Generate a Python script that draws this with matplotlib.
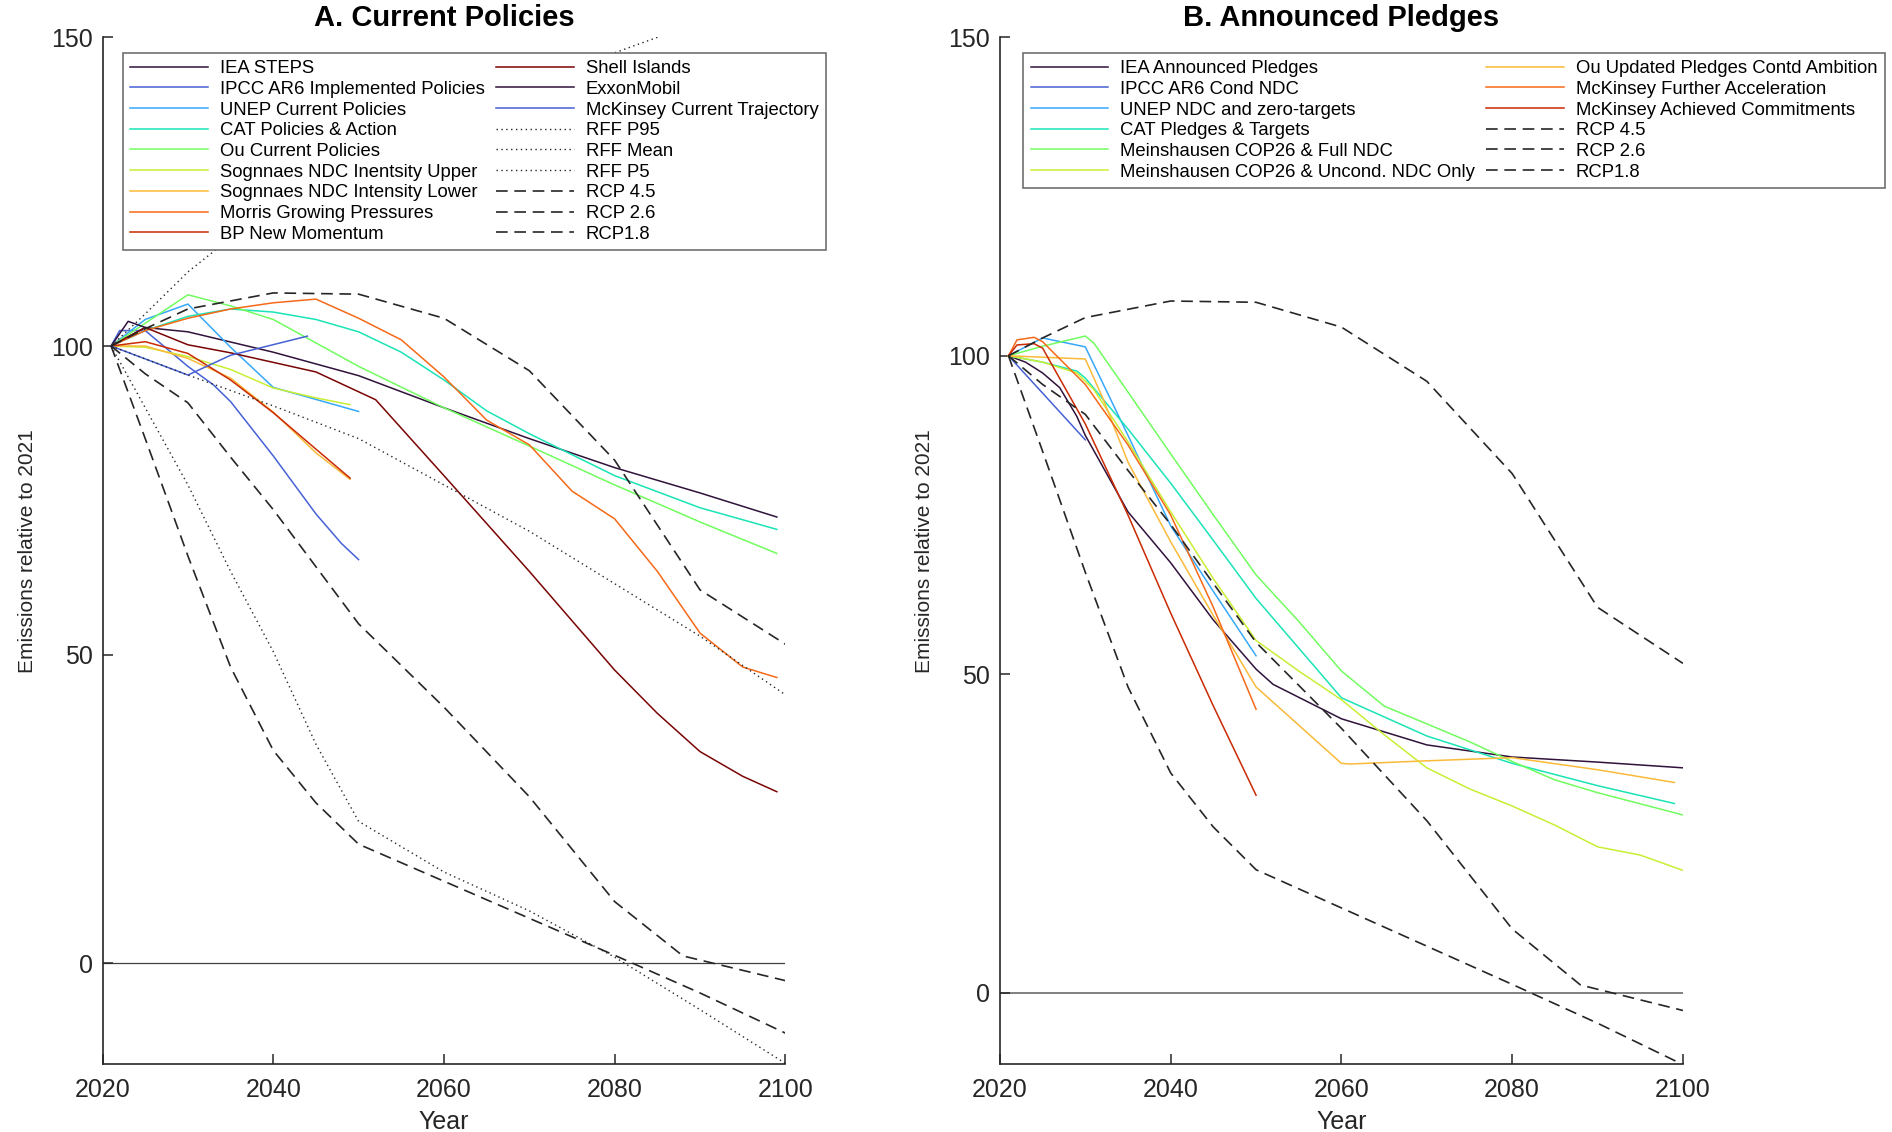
import numpy as np
import matplotlib
matplotlib.use("Agg")
import matplotlib.pyplot as plt

plt.rcParams['font.family'] = ['Liberation Sans', 'DejaVu Sans']

# ---------------- A. Current Policies ----------------
iea_steps_yr = [2021, 2025, 2030, 2040, 2050, 2060, 2070, 2080, 2090, 2099]
iea_steps = [100, 103, 102.3, 99, 95.2, 90, 85, 80.3, 76.2, 72.3]

ipcc_impl_yr = [2021, 2022, 2025, 2030, 2033, 2035, 2040, 2045, 2048, 2050]
ipcc_impl = [100, 102.5, 102.5, 96.7, 93.7, 91, 82.2, 72.8, 68, 65.4]

unep_cp_yr = [2021, 2025, 2030, 2035, 2040, 2050]
unep_cp = [100, 104.3, 106.8, 99.8, 93.3, 89.4]

cat_pa_yr = [2021, 2025, 2030, 2035, 2040, 2045, 2050, 2055, 2060, 2065, 2070, 2080, 2090, 2099]
cat_pa = [100, 102.5, 104.8, 106, 105.5, 104.3, 102.3, 99, 94.5, 89.5, 85.8, 79, 73.8, 70.3]

ou_cp_yr = [2021, 2030, 2035, 2040, 2045, 2050, 2060, 2070, 2080, 2090, 2099]
ou_cp = [100, 108.3, 106.5, 104.3, 100.5, 96.7, 90, 83.8, 77.5, 71.5, 66.4]

sog_up_yr = [2021, 2025, 2030, 2035, 2040, 2045, 2049]
sog_up = [100, 99.8, 98.3, 96.2, 93.2, 91.6, 90.5]

sog_lo_yr = [2021, 2025, 2030, 2035, 2040, 2045, 2049]
sog_lo = [100, 100, 98, 94.8, 89.3, 82.7, 78.4]

morris_yr = [2021, 2025, 2030, 2035, 2040, 2045, 2050, 2055, 2060, 2065, 2070, 2075,
             2080, 2085, 2090, 2095, 2099]
morris = [100, 102.5, 104.5, 106, 107, 107.6, 104.5, 101, 95, 88, 84, 76.5,
          72, 63.5, 53.5, 48, 46.3]

bp_yr = [2021, 2025, 2030, 2035, 2040, 2045, 2049]
bp = [100, 100.7, 98.8, 94.5, 89.2, 83.3, 78.6]

shell_yr = [2021, 2025, 2030, 2035, 2045, 2052, 2060, 2070, 2080, 2085, 2090, 2095, 2099]
shell = [100, 103, 100.2, 98.9, 95.8, 91.3, 79, 63.5, 47.5, 40.5, 34.3, 30.3, 27.8]

exxon_yr = [2021, 2023, 2025]
exxon = [100, 104, 103]

mck_ct_yr = [2021, 2030, 2035, 2044]
mck_ct = [100, 95.3, 98.5, 101.6]

rff_p95_yr = [2021, 2025, 2030, 2035, 2040, 2050, 2060, 2070, 2080, 2090, 2100]
rff_p95 = [100, 105.2, 112, 117.5, 121.5, 128.5, 135, 141.5, 147.5, 152.5, 156.5]

rff_mean_yr = [2021, 2030, 2040, 2050, 2060, 2070, 2080, 2090, 2100]
rff_mean = [100, 95.3, 90.3, 85, 77.5, 70, 61.5, 53, 43.5]

rff_p5_yr = [2021, 2025, 2030, 2035, 2040, 2045, 2050, 2060, 2070, 2080, 2090, 2100]
rff_p5 = [100, 90, 77.5, 63.5, 50.5, 35.5, 23, 14.8, 8.5, 1, -7.5, -16.2]

# RCP pathways (shared by both panels)
rcp45_yr = [2021, 2025, 2030, 2040, 2050, 2060, 2070, 2080, 2090, 2100]
rcp45 = [100, 102.8, 106, 108.6, 108.4, 104.5, 96, 81.5, 60.5, 51.7]

rcp26_yr = [2021, 2025, 2030, 2035, 2040, 2050, 2060, 2070, 2080, 2088, 2100]
rcp26 = [100, 95.5, 90.8, 82, 73.5, 55, 41.5, 27, 10, 1.2, -2.8]

rcp18_yr = [2021, 2025, 2030, 2035, 2040, 2045, 2050, 2060, 2070, 2080, 2090, 2100]
rcp18 = [100, 85, 66, 48, 34.5, 26, 19.3, 13.3, 7.3, 1.3, -4.8, -11.3]

# ---------------- B. Announced Pledges ----------------
iea_ap_yr = [2021, 2023, 2025, 2027, 2029, 2030, 2035, 2040, 2045, 2050, 2052, 2060,
             2070, 2080, 2090, 2100]
iea_ap = [100, 99, 97.3, 95, 90.5, 87.5, 75.5, 67.5, 58.5, 50.8, 48.4, 43,
          38.9, 37, 36.2, 35.3]

ipcc_cond_yr = [2021, 2030]
ipcc_cond = [100, 86.8]

unep_ndc_yr = [2021, 2025, 2030, 2035, 2040, 2045, 2050]
unep_ndc = [100, 102.8, 101.4, 87.5, 73.3, 63, 52.9]

cat_pt_yr = [2021, 2025, 2029, 2030, 2035, 2040, 2045, 2050, 2060, 2070, 2080, 2090, 2099]
cat_pt = [100, 99, 97.6, 96.5, 88.5, 80, 71, 61.9, 46.3, 40.3, 36, 32.5, 29.7]

mein_full_yr = [2021, 2025, 2030, 2031, 2035, 2040, 2045, 2050, 2055, 2060, 2065, 2070,
                2075, 2080, 2085, 2090, 2100]
mein_full = [100, 101.5, 103.1, 102, 94.3, 84.6, 75, 65.6, 58.3, 50.5, 45, 42.2,
             39.4, 36.3, 33.4, 31.4, 27.9]

mein_unc_yr = [2021, 2025, 2029, 2031, 2035, 2040, 2045, 2050, 2055, 2060, 2065, 2070,
               2075, 2080, 2085, 2090, 2095, 2100]
mein_unc = [100, 99, 97.3, 94.7, 86.5, 75.5, 65, 55.3, 50.5, 46, 40.5, 35.3,
            32, 29.3, 26.3, 22.9, 21.6, 19.2]

ou_upd_yr = [2021, 2030, 2032, 2035, 2040, 2045, 2050, 2052, 2060, 2061, 2070, 2080, 2090, 2099]
ou_upd = [100, 99.5, 93.5, 83.3, 70.8, 59.2, 48, 45.6, 36, 35.9, 36.4, 36.9, 35, 33]

mck_fa_yr = [2021, 2022, 2024, 2025, 2030, 2035, 2040, 2045, 2050]
mck_fa = [100, 102.5, 102.9, 102.2, 95.5, 86, 75, 60.5, 44.5]

mck_ac_yr = [2021, 2022, 2024, 2025, 2030, 2035, 2040, 2045, 2050]
mck_ac = [100, 101.7, 101.9, 101.2, 89.3, 75, 59.6, 45, 31]

cols = plt.cm.turbo(np.linspace(0, 1, 10))
ink = '#262626'
LW = 1.1
dash = (0, (7, 4))
dot = (0, (1, 2.5))

fig = plt.figure(figsize=(18.92, 11.32), dpi=100)
axA = fig.add_axes([0.0542, 0.0601, 0.3609, 0.9069])
axB = fig.add_axes([0.5285, 0.0601, 0.3610, 0.9069])

# panel A
solidA = [
    (iea_steps_yr, iea_steps, 'IEA STEPS'),
    (ipcc_impl_yr, ipcc_impl, 'IPCC AR6 Implemented Policies'),
    (unep_cp_yr, unep_cp, 'UNEP Current Policies'),
    (cat_pa_yr, cat_pa, 'CAT Policies & Action'),
    (ou_cp_yr, ou_cp, 'Ou Current Policies'),
    (sog_up_yr, sog_up, 'Sognnaes NDC Inentsity Upper'),
    (sog_lo_yr, sog_lo, 'Sognnaes NDC Intensity Lower'),
    (morris_yr, morris, 'Morris Growing Pressures'),
    (bp_yr, bp, 'BP New Momentum'),
    (shell_yr, shell, 'Shell Islands'),
    (exxon_yr, exxon, 'ExxonMobil'),
    (mck_ct_yr, mck_ct, 'McKinsey Current Trajectory'),
]
for i, (x, y, lab) in enumerate(solidA):
    axA.plot(x, y, color=cols[i % 10], lw=LW, label=lab)
axA.plot(rff_p95_yr, rff_p95, color=ink, lw=1.0, ls=dot, label='RFF P95')
axA.plot(rff_mean_yr, rff_mean, color=ink, lw=1.0, ls=dot, label='RFF Mean')
axA.plot(rff_p5_yr, rff_p5, color=ink, lw=1.0, ls=dot, label='RFF P5')

# panel B
solidB = [
    (iea_ap_yr, iea_ap, 'IEA Announced Pledges'),
    (ipcc_cond_yr, ipcc_cond, 'IPCC AR6 Cond NDC'),
    (unep_ndc_yr, unep_ndc, 'UNEP NDC and zero-targets'),
    (cat_pt_yr, cat_pt, 'CAT Pledges & Targets'),
    (mein_full_yr, mein_full, 'Meinshausen COP26 & Full NDC'),
    (mein_unc_yr, mein_unc, 'Meinshausen COP26 & Uncond. NDC Only'),
    (ou_upd_yr, ou_upd, 'Ou Updated Pledges Contd Ambition'),
    (mck_fa_yr, mck_fa, 'McKinsey Further Acceleration'),
    (mck_ac_yr, mck_ac, 'McKinsey Achieved Commitments'),
]
for i, (x, y, lab) in enumerate(solidB):
    axB.plot(x, y, color=cols[i], lw=LW, label=lab)

for ax in (axA, axB):
    ax.plot(rcp45_yr, rcp45, color=ink, lw=1.2, ls=dash, label='RCP 4.5')
    ax.plot(rcp26_yr, rcp26, color=ink, lw=1.2, ls=dash, label='RCP 2.6')
    ax.plot(rcp18_yr, rcp18, color=ink, lw=1.2, ls=dash, label='RCP1.8')

axA.axhline(0, color='#404040', lw=0.9, zorder=1)
axB.axhline(0, color='#808080', lw=1.4, zorder=1)

axA.set_ylim(-16.3, 150)
axB.set_ylim(-11.2, 150)
axA.set_title('A. Current Policies', fontsize=21, fontweight='bold', pad=8)
axB.set_title('B. Announced Pledges', fontsize=21, fontweight='bold', pad=8)

for ax in (axA, axB):
    ax.set_xlim(2020, 2100)
    ax.set_xticks([2020, 2040, 2060, 2080, 2100])
    ax.set_yticks([0, 50, 100, 150])
    for s in ('top', 'right'):
        ax.spines[s].set_visible(False)
    for s in ('left', 'bottom'):
        ax.spines[s].set_color(ink)
        ax.spines[s].set_linewidth(1.2)
    ax.tick_params(direction='in', length=7, width=1.1, color=ink,
                   labelsize=18, labelcolor=ink)
    ax.tick_params(axis='x', pad=10)
    ax.tick_params(axis='y', pad=7)
    ax.set_xlabel('Year', fontsize=18, color=ink, labelpad=6)
    ax.set_ylabel('Emissions relative to 2021', fontsize=15, color=ink, labelpad=10)

legA = axA.legend(ncol=2, loc='upper left', bbox_to_anchor=(0.030, 0.985),
                  borderaxespad=0, fontsize=13.3, frameon=True, fancybox=False,
                  framealpha=1, edgecolor='#707070', handlelength=4.2,
                  handletextpad=0.65, columnspacing=0.6, labelspacing=0.2,
                  borderpad=0.4)
legA.get_frame().set_linewidth(1.2)

legB = axB.legend(ncol=2, loc='upper left', bbox_to_anchor=(0.034, 0.985),
                  borderaxespad=0, fontsize=13.3, frameon=True, fancybox=False,
                  framealpha=1, edgecolor='#707070', handlelength=4.2,
                  handletextpad=0.65, columnspacing=0.6, labelspacing=0.2,
                  borderpad=0.4)
legB.get_frame().set_linewidth(1.2)

fig.savefig('out.png', dpi=100)
